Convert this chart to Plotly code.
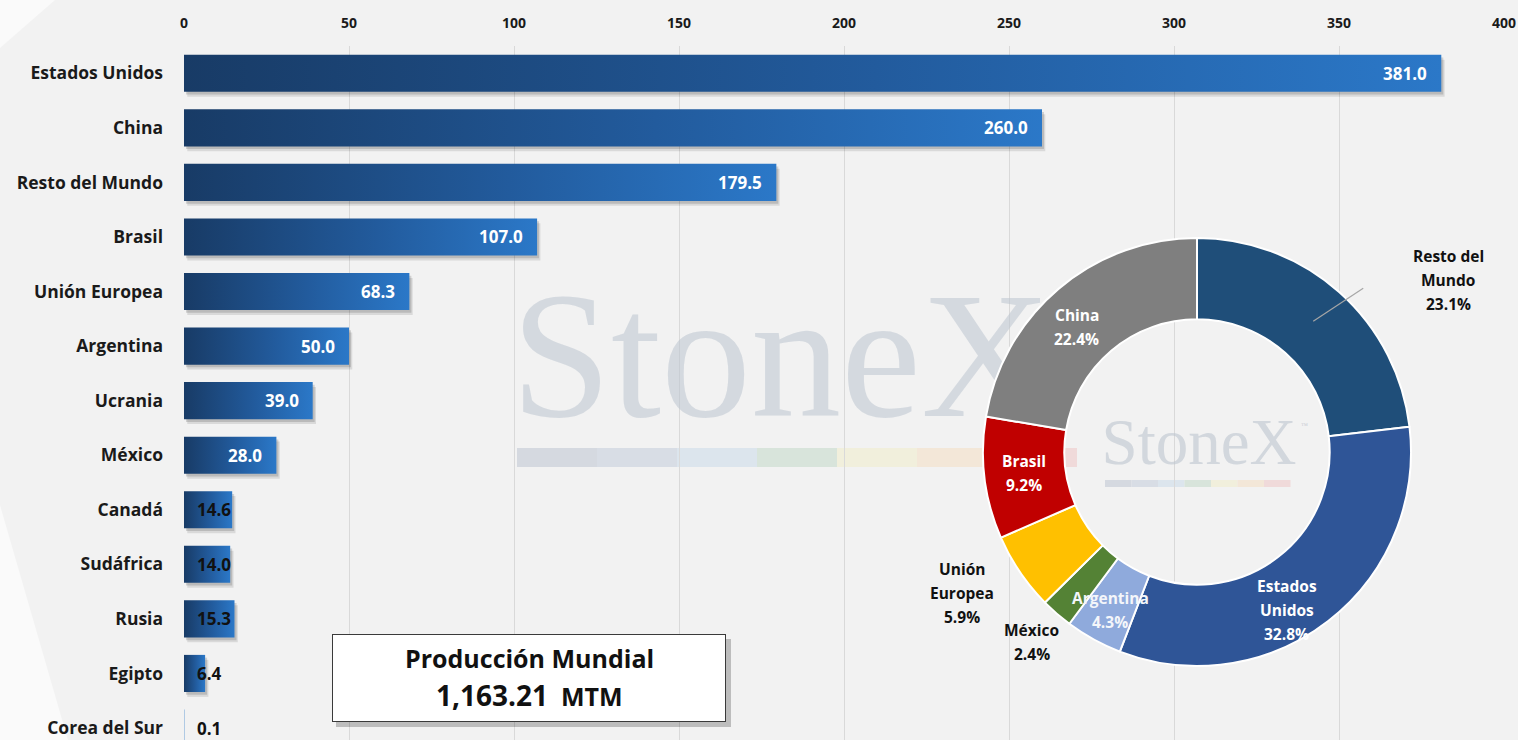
import math
import plotly.graph_objects as go

# ---------------- data ----------------
categories = ["Estados Unidos", "China", "Resto del Mundo", "Brasil", "Unión Europea",
              "Argentina", "Ucrania", "México", "Canadá", "Sudáfrica", "Rusia",
              "Egipto", "Corea del Sur"]
production = [381.0, 260.0, 179.5, 107.0, 68.3, 50.0, 39.0, 28.0, 14.6, 14.0, 15.3, 6.4, 0.1]
x_ticks = [0, 50, 100, 150, 200, 250, 300, 350, 400]

pie_labels = ["Resto del<br>Mundo", "Estados<br>Unidos", "Argentina", "México",
              "Unión<br>Europea", "Brasil", "China"]
pie_values = [268.9, 381.0, 50.0, 28.0, 68.3, 107.0, 260.0]
pie_colors = ["#1f4e79", "#2f5597", "#8faadc", "#548235", "#ffc000", "#c00000", "#7f7f7f"]

total_title = "Producción Mundial"
total_value = "1,163.21"
total_unit = "MTM"

# ---------------- layout geometry ----------------
W, H = 1518, 740
L, R, T, B = 184, 14, 46, 0
PW, PH = W - L - R, H - T - B
FONT = "Open Sans"


def pxx(px):
    return (px - L) / PW


def pxy(py):
    return (H - B - py) / PH


fig = go.Figure()

# bars (gradient filled rectangles built from the data)
hh = 0.34
for i, v in enumerate(production):
    xs = [0, v, v, 0, 0]
    ys = [i - hh, i - hh, i + hh, i + hh, i - hh]
    if v >= 1:
        for ox, oy, op in [(1.0, 0.09, 0.10), (0.6, 0.05, 0.14)]:
            fig.add_trace(go.Scatter(
                x=[x + ox for x in xs], y=[y + oy for y in ys], mode="lines",
                fill="toself", fillcolor=f"rgba(0,0,0,{op})", line=dict(width=0),
                hoverinfo="skip", showlegend=False))
    fig.add_trace(go.Scatter(
        x=xs, y=ys, mode="lines", fill="toself", line=dict(width=0),
        fillgradient=dict(type="horizontal",
                          colorscale=[[0, "#183b66"], [0.55, "#225b9d"], [1, "#2b78c8"]]),
        name=categories[i], hovertemplate=f"{categories[i]}: {v:.1f}<extra></extra>",
        showlegend=False))

# watermarks (under the pie)
fig.add_trace(go.Scatter(
    x=[(781 - L) / 3.3], y=[5.45], mode="text", text=["StoneX"],
    textfont=dict(family="Liberation Serif", size=180, color="rgba(188,196,207,0.55)"),
    hoverinfo="skip", showlegend=False))
fig.add_trace(go.Scatter(
    x=[(1199 - L) / 3.3], y=[6.86], mode="text", text=["StoneX"],
    textfont=dict(family="Liberation Serif", size=65, color="rgba(188,196,207,0.6)"),
    hoverinfo="skip", showlegend=False))

# donut
cx, cy, rr = 1197, 452, 214
fig.add_trace(go.Pie(
    labels=[l.replace("<br>", " ") for l in pie_labels], values=pie_values,
    marker=dict(colors=pie_colors, line=dict(color="white", width=2)),
    hole=0.62, sort=False, direction="clockwise", rotation=0,
    textinfo="none", showlegend=False,
    domain=dict(x=[pxx(cx - rr), pxx(cx + rr)], y=[pxy(cy + rr), pxy(cy - rr)])))

# ---------------- annotations ----------------
ann = []
# bar value labels
for i, v in enumerate(production):
    if v >= 20:
        ann.append(dict(x=v, y=i, xref="x", yref="y", text=f"{v:.1f}", showarrow=False,
                        xanchor="right", xshift=-12,
                        font=dict(family=FONT, size=17, color="white", weight="bold")))
    else:
        ann.append(dict(x=0, y=i, xref="x", yref="y", text=f"{v:.1f}", showarrow=False,
                        xanchor="left", xshift=11,
                        font=dict(family=FONT, size=17, color="#111111", weight="bold")))

# donut labels (one annotation per line for Excel-like line spacing)
total = sum(pie_values)
label_radius = [175, 182, 180, 252, 274, 174, 174]
label_shift = [(135, -41), (-22, 14), (0, 0), (0, 0), (-8, -13), (0, 0), (-8, 8)]
label_color = ["#111111", "white", "#f4f6fa", "#111111", "#111111", "white", "white"]
LINE = 24
shapes = []
cum = 0.0
for k, v in enumerate(pie_values):
    mid = (cum + v / 2) / total
    cum += v
    th = 2 * math.pi * mid
    px = cx + label_radius[k] * math.sin(th)
    py = cy - label_radius[k] * math.cos(th)
    dx, dy = label_shift[k]
    if k == 0:
        shapes.append(dict(type="line", xref="paper", yref="paper",
                           x0=pxx(px), y0=pxy(py), x1=pxx(px + 50), y1=pxy(py - 33),
                           line=dict(color="#a6a6a6", width=1.2), layer="above"))
    lines = pie_labels[k].split("<br>") + [f"{100 * v / total:.1f}%"]
    n = len(lines)
    for j, t in enumerate(lines):
        ly = py + dy + (j - (n - 1) / 2) * LINE
        ann.append(dict(x=pxx(px + dx), y=pxy(ly), xref="paper", yref="paper",
                        text=t, showarrow=False, xanchor="center", yanchor="middle",
                        font=dict(family=FONT, size=15.5, color=label_color[k],
                                  weight="bold")))

# small trademark
ann.append(dict(x=pxx(1304), y=pxy(426), xref="paper", yref="paper", text="™",
                showarrow=False, xanchor="center", yanchor="middle",
                font=dict(family="Liberation Serif", size=7, color="#c8ccd2")))

# total box
shapes.append(dict(type="rect", xref="paper", yref="paper",
                   x0=pxx(336), x1=pxx(731), y0=pxy(727), y1=pxy(639),
                   fillcolor="rgba(0,0,0,0.22)", line=dict(width=0), layer="above"))
ann.append(dict(x=pxx(529), y=pxy(678), xref="paper", yref="paper", showarrow=False,
                xanchor="center", yanchor="middle", text=" ",
                width=392, height=86, borderpad=0, bgcolor="white", bordercolor="#3a3a3a",
                borderwidth=1))
ann.append(dict(x=pxx(529), y=pxy(658), xref="paper", yref="paper", showarrow=False,
                xanchor="center", yanchor="middle", text=total_title,
                font=dict(family=FONT, size=25, color="#111111", weight="bold")))
ann.append(dict(x=pxx(529), y=pxy(695), xref="paper", yref="paper", showarrow=False,
                xanchor="center", yanchor="middle",
                text=f"<span style='font-size:28px'>{total_value}</span>&nbsp;&nbsp;{total_unit}",
                font=dict(family=FONT, size=25, color="#111111", weight="bold")))

# watermark colour strips
strip_cols = ["#d5d9e0", "#d8dde5", "#dce5ed", "#d8e4db", "#f1efdc", "#f3e7d8", "#f0dada"]
for j, c in enumerate(strip_cols):
    shapes.append(dict(type="rect", xref="paper", yref="paper",
                       x0=pxx(517 + 80 * j), x1=pxx(517 + 80 * (j + 1)),
                       y0=pxy(467), y1=pxy(448), fillcolor=c, line=dict(width=0), layer="below"))
    shapes.append(dict(type="rect", xref="paper", yref="paper",
                       x0=pxx(1105 + 26.5 * j), x1=pxx(1105 + 26.5 * (j + 1)),
                       y0=pxy(487), y1=pxy(480), fillcolor=c, line=dict(width=0), layer="below"))

# light background wedges on the left
shapes.append(dict(type="path", xref="paper", yref="paper",
                   path=f"M {pxx(0)},{pxy(0)} L {pxx(55)},{pxy(0)} L {pxx(0)},{pxy(48)} Z",
                   fillcolor="rgba(255,255,255,0.6)", line=dict(width=0), layer="below"))
shapes.append(dict(type="path", xref="paper", yref="paper",
                   path=f"M {pxx(0)},{pxy(505)} L {pxx(68)},{pxy(740)} L {pxx(0)},{pxy(740)} Z",
                   fillcolor="rgba(255,255,255,0.6)", line=dict(width=0), layer="below"))

fig.update_layout(
    width=W, height=H, margin=dict(l=L, r=R, t=T, b=B, autoexpand=False),
    paper_bgcolor="#f2f2f2", plot_bgcolor="#f2f2f2",
    annotations=ann, shapes=shapes, hovermode="closest",
    xaxis=dict(range=[0, 400], side="top", tickvals=x_ticks, showgrid=True,
               gridcolor="#d9d9d9", gridwidth=1, zeroline=False, showline=False,
               ticks="", ticklabelstandoff=14,
               tickfont=dict(family=FONT, size=14, color="#1a1a1a", weight="bold")),
    yaxis=dict(range=[12.22, -0.5], tickvals=list(range(len(categories))),
               ticktext=categories, showgrid=False, zeroline=False, showline=False,
               ticks="", ticklabelstandoff=20,
               tickfont=dict(family=FONT, size=17.5, color="#1a1a1a", weight="bold")),
)

fig.write_html("out.html", config={"displayModeBar": False},
               post_script="document.body.style.margin='0';")
